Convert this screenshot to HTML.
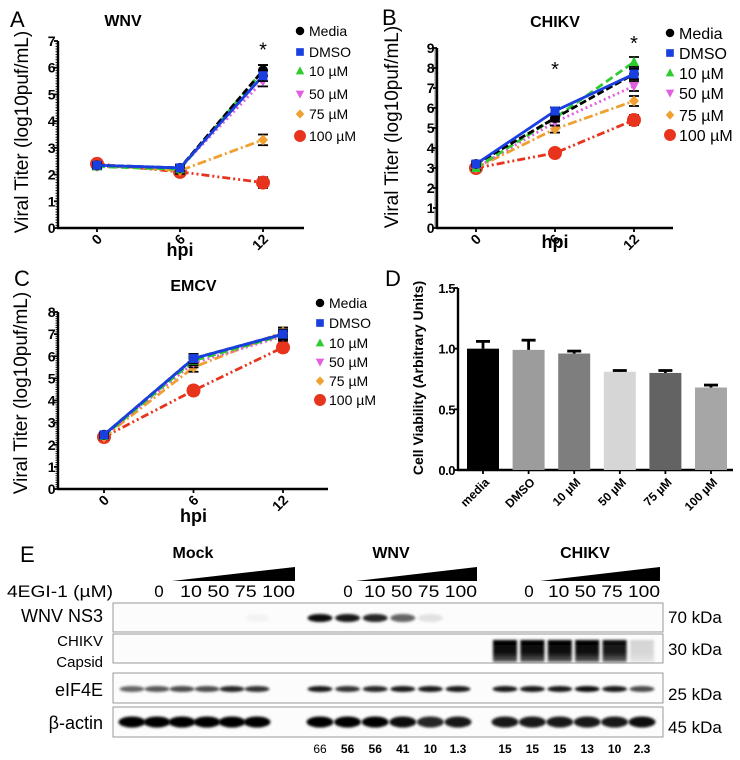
<!DOCTYPE html>
<html><head><meta charset="utf-8">
<style>
html,body{margin:0;padding:0;background:#fff;}
svg{display:block;font-family:"Liberation Sans",sans-serif;}
</style></head>
<body>
<svg id="fig" width="740" height="760" viewBox="0 0 740 760" xmlns="http://www.w3.org/2000/svg">
<defs>
<filter id="blur1" x="-20%" y="-50%" width="140%" height="200%"><feGaussianBlur stdDeviation="1.3"/></filter>
<linearGradient id="capg" x1="0" y1="0" x2="0" y2="1"><stop offset="0" stop-color="#000"/><stop offset="0.6" stop-color="#111"/><stop offset="1" stop-color="#666"/></linearGradient>
</defs>
<g id="panelA"></g>
<g id="panelB"></g>
<g id="panelC"></g>
<g id="panelD"></g>
<g id="panelE"></g>
</svg>
<script>
// ---- data ----
const hpiCats = [0, 6, 12];
const seriesNames = ["Media", "DMSO", "10 µM", "50 µM", "75 µM", "100 µM"];
const wnvMedia = [2.35, 2.25, 5.9];
const wnvDMSO = [2.35, 2.25, 5.7];
const wnv10 = [2.3, 2.2, 5.9];
const wnv50 = [2.3, 2.25, 5.5];
const wnv75 = [2.35, 2.15, 3.3];
const wnv100 = [2.4, 2.1, 1.7];
const wnvErr = [0.1, 0.12, 0.2];
const chikvMedia = [3.2, 5.5, 7.7];
const chikvDMSO = [3.2, 5.85, 7.7];
const chikv10 = [3.0, 5.5, 8.3];
const chikv50 = [3.0, 5.3, 7.1];
const chikv75 = [3.0, 4.95, 6.35];
const chikv100 = [3.0, 3.75, 5.4];
const chikvErr = [0.12, 0.18, 0.25];
const emcvMedia = [2.45, 5.9, 7.0];
const emcvDMSO = [2.45, 5.9, 7.0];
const emcv10 = [2.4, 5.8, 6.95];
const emcv50 = [2.4, 5.7, 6.9];
const emcv75 = [2.35, 5.5, 7.1];
const emcv100 = [2.35, 4.45, 6.4];
const emcvErr = [0.1, 0.2, 0.2];
const viabCats = ["media", "DMSO", "10 µM", "50 µM", "75 µM", "100 µM"];
const viabValues = [1.0, 0.99, 0.96, 0.81, 0.80, 0.68];
const viabErr = [0.06, 0.08, 0.02, 0.01, 0.02, 0.02];
const viabTicks = ["0.0", "0.5", "1.0", "1.5"];
const blotNumbersWNV = ["66", "56", "56", "41", "10", "1.3"];
const blotNumbersCHIKV = ["15", "15", "15", "13", "10", "2.3"];
const ns3Intensity = [0, 0, 0, 0, 0, 0.03, 0.95, 0.9, 0.85, 0.6, 0.1, 0, 0, 0, 0, 0, 0, 0];
const capsidIntensity = [0, 0, 0, 0, 0, 0, 0, 0, 0, 0, 0, 0, 1, 1, 1, 1, 0.95, 0.15];
const eif4eIntensity = [0.6, 0.65, 0.7, 0.7, 0.85, 0.8, 0.9, 0.8, 0.85, 0.9, 0.9, 0.9, 0.9, 0.9, 0.9, 0.95, 0.9, 0.7];
const actinIntensity = [1, 1, 1, 1, 1, 1, 1, 1, 1, 0.95, 0.85, 0.9, 0.9, 0.9, 0.9, 0.9, 0.9, 0.95];

const NS = "http://www.w3.org/2000/svg";
function mk(parent, tag, attrs, text) {
  const e = document.createElementNS(NS, tag);
  for (const k in attrs) e.setAttribute(k, attrs[k]);
  if (text !== undefined) e.textContent = text;
  parent.appendChild(e);
  return e;
}
const colors = ["#000", "#1a3fe0", "#2ecc2e", "#e060e0", "#f0a030", "#e8341c"];
const dashes = ["7,3", "", "8,4", "2,3", "9,3,2,3", "8,3,2,3,2,3"];

function marker(g, k, x, y, s) {
  let m;
  if (k === 0) m = mk(g, "circle", {cx: x, cy: y, r: 5 * s, fill: colors[0]});
  else if (k === 1) m = mk(g, "rect", {x: x - 4.5 * s, y: y - 4.5 * s, width: 9 * s, height: 9 * s, fill: colors[1]});
  else if (k === 2) m = mk(g, "polygon", {points: `${x},${y - 5.5 * s} ${x - 5 * s},${y + 4 * s} ${x + 5 * s},${y + 4 * s}`, fill: colors[2]});
  else if (k === 3) m = mk(g, "polygon", {points: `${x},${y + 5.5 * s} ${x - 5 * s},${y - 4 * s} ${x + 5 * s},${y - 4 * s}`, fill: colors[3]});
  else if (k === 4) m = mk(g, "polygon", {points: `${x},${y - 5.5 * s} ${x + 5 * s},${y} ${x},${y + 5.5 * s} ${x - 5 * s},${y}`, fill: colors[4]});
  else m = mk(g, "circle", {cx: x, cy: y, r: 7 * s, fill: colors[5]});
  return m;
}

function lineChart(cfg) {
  const g = document.getElementById(cfg.id);
  const xS = v => cfg.x0 + (v / 12) * (cfg.x2 - cfg.x0);
  const yS = v => cfg.yb - (v / cfg.ymax) * (cfg.yb - cfg.yt);
  const ax = mk(g, "g", {});
  
  
  mk(ax, "line", {x1: cfg.ax, y1: cfg.yt, x2: cfg.ax, y2: cfg.yb, stroke: "#000", "stroke-width": 2.4});
  for (let v = 0; v <= cfg.ymax; v++) {
    const y = yS(v);
    mk(ax, "line", {x1: cfg.ax - 4, y1: y, x2: cfg.ax, y2: y, stroke: "#000", "stroke-width": 1.8});
    mk(ax, "text", {x: cfg.ax - 3, y: y + 5, "text-anchor": "end", "font-size": 14, "font-weight": "bold", "letter-spacing": "-0.5"}, String(v));
    if (v < cfg.ymax) for (let m = 1; m < 10; m++) {
      const ym = yS(v + m / 10);
      mk(ax, "line", {x1: cfg.ax - 2.5, y1: ym, x2: cfg.ax, y2: ym, stroke: "#000", "stroke-width": 0.9});
    }
  }
  const xa = mk(g, "g", {});
  
  
  mk(xa, "line", {x1: cfg.ax - 1, y1: cfg.yb, x2: cfg.axEnd, y2: cfg.yb, stroke: "#000", "stroke-width": 2.4});
  hpiCats.forEach(c => {
    const x = xS(c);
    mk(xa, "line", {x1: x, y1: cfg.yb, x2: x, y2: cfg.yb + 4, stroke: "#000", "stroke-width": 1.8});
    const t = mk(xa, "text", {x: 0, y: 0, "text-anchor": "end", "font-size": 14, "font-weight": "bold", transform: `translate(${x + 6},${cfg.yb + 12}) rotate(-45)`}, String(c));
    
    
  });
  const xt = mk(g, "text", {x: xS(6), y: cfg.hpiY, "text-anchor": "middle", "font-size": 18, "font-weight": "bold"}, "hpi");
  
  
  const yt = mk(g, "text", {x: 0, y: 0, "text-anchor": "middle", "font-size": 19, transform: `translate(${cfg.ylx},${cfg.yly}) rotate(-90)`}, "Viral Titer (log10puf/mL)");
  
  
  const tt = mk(g, "text", {x: xS(6) - cfg.titleShift, y: cfg.titleY, "text-anchor": "middle", "font-size": 16, "font-weight": "bold"}, cfg.title);
  
  
  const pl = mk(g, "text", {x: cfg.letterX, y: cfg.letterY, "font-size": 22}, cfg.letter);
  
  
  const order = [5, 4, 3, 2, 0, 1];
  order.forEach(k => {
    const vals = cfg.series[k];
    const sg = mk(g, "g", {});
    
    
    const pts = vals.map((v, i) => `${xS(hpiCats[i])},${yS(v)}`).join(" ");
    const pa = {points: pts, fill: "none", stroke: colors[k], "stroke-width": 2.8};
    if (dashes[k]) pa["stroke-dasharray"] = dashes[k];
    const line = mk(sg, "polyline", pa);
    
    
    vals.forEach((v, i) => {
      const x = xS(hpiCats[i]);
      const e = cfg.err[i];
      mk(sg, "line", {x1: x, y1: yS(v + e), x2: x, y2: yS(v - e), stroke: "#000", "stroke-width": 1.8});
      mk(sg, "line", {x1: x - 5, y1: yS(v + e), x2: x + 5, y2: yS(v + e), stroke: "#000", "stroke-width": 1.8});
      mk(sg, "line", {x1: x - 5, y1: yS(v - e), x2: x + 5, y2: yS(v - e), stroke: "#000", "stroke-width": 1.8});
      const m = marker(sg, k, x, yS(v), 1);
      
      
    });
  });
  cfg.stars.forEach(s => {
    const st = mk(g, "text", {x: xS(s[0]), y: yS(s[1]) + 10, "text-anchor": "middle", "font-size": 20}, "*");
    
    
  });
  const lg = mk(g, "g", {});
  
  
  seriesNames.forEach((n, k) => {
    const y = cfg.legY[k];
    const le = mk(lg, "g", {});
    
    
    marker(le, k, cfg.legX, y, 0.85);
    mk(le, "text", {x: cfg.legX + 9, y: y + cfg.legFs * 0.36, "font-size": cfg.legFs}, n);
  });
}

lineChart({id: "panelA", title: "WNV", letter: "A", letterX: 10, letterY: 27, titleY: 26, titleShift: 57,
  ax: 58, axEnd: 304, x0: 97, x2: 263, yt: 41, yb: 228, ymax: 7, hpiY: 256, ylx: 28, yly: 132,
  series: [wnvMedia, wnvDMSO, wnv10, wnv50, wnv75, wnv100], err: wnvErr, stars: [[12, 6.8]],
  legX: 300, legY: [31, 52, 71, 94, 114, 136], legFs: 14});
lineChart({id: "panelB", title: "CHIKV", letter: "B", letterX: 382, letterY: 25, titleY: 27, titleShift: 0,
  ax: 437, axEnd: 673, x0: 476, x2: 634, yt: 48, yb: 228, ymax: 9, hpiY: 248, ylx: 398, yly: 127,
  series: [chikvMedia, chikvDMSO, chikv10, chikv50, chikv75, chikv100], err: chikvErr, stars: [[6, 8.1], [12, 9.4]],
  legX: 670, legY: [33, 53, 73, 93, 115, 135], legFs: 16});
lineChart({id: "panelC", title: "EMCV", letter: "C", letterX: 14, letterY: 286, titleY: 291, titleShift: 0,
  ax: 58, axEnd: 328, x0: 104, x2: 283, yt: 312, yb: 489, ymax: 8, hpiY: 522, ylx: 27, yly: 393,
  series: [emcvMedia, emcvDMSO, emcv10, emcv50, emcv75, emcv100], err: emcvErr, stars: [],
  legX: 320, legY: [303, 323, 343, 362, 381, 400], legFs: 14});

// ---- panel D ----
(function () {
  const g = document.getElementById("panelD");
  const ax = 458, yb = 470, yt = 288, ymax = 1.5;
  const yS = v => yb - (v / ymax) * (yb - yt);
  const x0 = 483, step = 45.6, bw = 32;
  const fills = ["#000", "#9c9c9c", "#7e7e7e", "#d6d6d6", "#636363", "#a6a6a6"];
  const yaxis = mk(g, "g", {});
  
  
  mk(yaxis, "line", {x1: ax, y1: yt, x2: ax, y2: yb, stroke: "#000", "stroke-width": 2.4});
  viabTicks.forEach(t => {
    const y = yS(parseFloat(t));
    mk(yaxis, "line", {x1: ax - 4, y1: y, x2: ax, y2: y, stroke: "#000", "stroke-width": 1.8});
    mk(yaxis, "text", {x: ax - 3, y: y + 5, "text-anchor": "end", "font-size": 13, "font-weight": "bold", "letter-spacing": "-0.5"}, t);
  });
  const xaxis = mk(g, "g", {});
  
  
  mk(xaxis, "line", {x1: ax - 1, y1: yb, x2: 733, y2: yb, stroke: "#000", "stroke-width": 2.4});
  viabValues.forEach((v, i) => {
    const cx = x0 + i * step;
    const b = mk(g, "rect", {x: cx - bw / 2, y: yS(v), width: bw, height: yb - yS(v), fill: fills[i]});
    
    
    const e = viabErr[i];
    mk(g, "line", {x1: cx, y1: yS(v), x2: cx, y2: yS(v + e), stroke: "#000", "stroke-width": 2.8});
    mk(g, "line", {x1: cx - 7, y1: yS(v + e), x2: cx + 7, y2: yS(v + e), stroke: "#000", "stroke-width": 2.8});
    mk(xaxis, "line", {x1: cx, y1: yb, x2: cx, y2: yb + 4, stroke: "#000", "stroke-width": 1.8});
    const t = mk(xaxis, "text", {x: 0, y: 0, "text-anchor": "end", "font-size": 12, "font-weight": "bold", transform: `translate(${cx + 7},${yb + 13}) rotate(-45)`}, viabCats[i]);
    
    
  });
  const yt2 = mk(g, "text", {x: 0, y: 0, "text-anchor": "middle", "font-size": 14, "font-weight": "bold", transform: `translate(423,378) rotate(-90)`}, "Cell Viability (Arbitrary Units)");
  
  
  const pl = mk(g, "text", {x: 385, y: 286, "font-size": 22}, "D");
  
  
})();

// ---- panel E ----
(function () {
  const g = document.getElementById("panelE");
  const t = (x, y, s, fs, opts) => mk(g, "text", Object.assign({x: x, y: y, "font-size": fs}, opts || {}), s);
  const pl = t(20, 562, "E", 22);
  
  
  const groups = [["Mock", 193, 172, 295, 159], ["WNV", 391, 356, 477, 348], ["CHIKV", 585, 540, 660, 529]];
  groups.forEach(gr => {
    const h = t(gr[1], 558, gr[0], 16, {"text-anchor": "middle", "font-weight": "bold"});
    
    
    const tri = mk(g, "polygon", {points: `${gr[2]},581 ${gr[3]},567 ${gr[3]},581`, fill: "#000"});
    
    
    t(gr[4], 597, "0", 17, {"text-anchor": "middle"});
    t((gr[2] + gr[3]) / 2 + 4, 597, "10 50 75 100", 17, {"text-anchor": "middle", "textLength": gr[3] - gr[2] - 8, "lengthAdjust": "spacingAndGlyphs"});
  });
  t(7, 597, "4EGI-1 (µM)", 17, {"textLength": 106, "lengthAdjust": "spacingAndGlyphs"});
  const boxes = [[603, 632], [634, 663], [673, 703], [707, 737]];
  const rowLbl = [["WNV NS3", 622, 18], ["CHIKV", 646, 15], ["Capsid", 667, 15], ["eIF4E", 696, 18], ["β-actin", 729, 18]];
  rowLbl.forEach(r => {
    const l = t(103, r[1], r[0], r[2], {"text-anchor": "end"});
    
    
  });
  [["70 kDa", 623], ["30 kDa", 655], ["25 kDa", 700], ["45 kDa", 733]].forEach(r => {
    const l = t(668, r[1], r[0], 17);
    
    
  });
  const lanes = [];
  for (let i = 0; i < 6; i++) lanes.push(132 + i * 25);
  for (let i = 0; i < 6; i++) lanes.push(320 + i * 27.6);
  for (let i = 0; i < 6; i++) lanes.push(505 + i * 27.4);
  boxes.forEach(b => {
    const r = mk(g, "rect", {x: 113, y: b[0], width: 550, height: b[1] - b[0], fill: "#fcfcfc", stroke: "#999", "stroke-width": 1});
    
    
  });
  const bandRow = (arr, cy, w, h, filt) => lanes.forEach((x, i) => {
    const a = arr[i];
    if (a <= 0) return;
    const e = mk(g, "ellipse", {cx: x, cy: cy, rx: w / 2, ry: h / 2, fill: "#000", opacity: a, filter: filt});
    
    
  });
  bandRow(ns3Intensity, 618, 25, 8, "url(#blur1)");
  lanes.forEach((x, i) => {
    const a = capsidIntensity[i];
    if (a <= 0) return;
    const r = mk(g, "rect", {x: x - 12, y: 640, width: 24, height: 22, fill: "url(#capg)", opacity: a, filter: "url(#blur1)"});
    
    
  });
  bandRow(eif4eIntensity, 689, 25, 6, "url(#blur1)");
  bandRow(actinIntensity, 722, 27, 11, "url(#blur1)");
  blotNumbersWNV.forEach((n, i) => {
    const l = t(lanes[6 + i], 753, n, 12, {"text-anchor": "middle", "font-weight": i ? "bold" : "normal"});
    
    
  });
  blotNumbersCHIKV.forEach((n, i) => {
    const l = t(lanes[12 + i], 753, n, 12, {"text-anchor": "middle", "font-weight": "bold"});
    
    
  });
})();
</script>
</body></html>
